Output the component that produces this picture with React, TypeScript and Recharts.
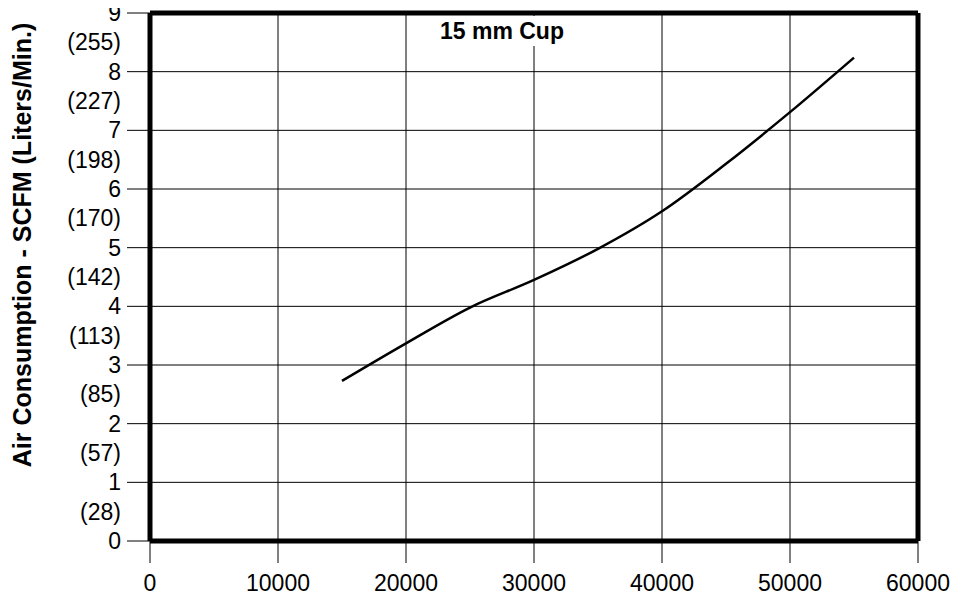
import React from "react";
import {
  LineChart,
  Line,
  XAxis,
  YAxis,
  CartesianGrid,
  ReferenceLine,
} from "recharts";

const rpm = [15000, 20000, 25000, 30000, 35000, 40000, 45000, 50000, 55000];
const scfm = [2.73, 3.37, 3.98, 4.45, 4.98, 5.62, 6.43, 7.31, 8.24];

const xTicks = [0, 10000, 20000, 30000, 40000, 50000, 60000];
const yMajor = [0, 1, 2, 3, 4, 5, 6, 7, 8, 9];
const yLitres = ["(28)", "(57)", "(85)", "(113)", "(142)", "(170)", "(198)", "(227)", "(255)"];

const data = rpm.map((x, i) => ({ x, y: scfm[i] }));
const yTicks = yMajor.flatMap((v, i) => (i < yLitres.length ? [v, v + 0.5] : [v]));

const FONT = "'Liberation Sans', Arial, sans-serif";

const YTick = (props: any) => {
  const { x, y, payload } = props;
  const v = payload.value;
  const isMajor = Number.isInteger(v);
  const label = isMajor ? String(v) : yLitres[Math.floor(v)];
  return (
    <g>
      {isMajor && <line x1={x - 23} x2={x} y1={y} y2={y} stroke="#000" strokeWidth={1} />}
      <text
        x={x - 29}
        y={y}
        textAnchor="end"
        dominantBaseline="central"
        fontSize={23}
        fontFamily={FONT}
        fill="#000"
      >
        {label}
      </text>
    </g>
  );
};

const XTick = (props: any) => {
  const { x, y, payload } = props;
  return (
    <g>
      <line x1={x} x2={x} y1={y} y2={y + 22} stroke="#000" strokeWidth={1} />
      <text
        x={x}
        y={y + 42}
        textAnchor="middle"
        dominantBaseline="central"
        fontSize={23}
        fontFamily={FONT}
        fill="#000"
      >
        {payload.value}
      </text>
    </g>
  );
};

export default function App() {
  return (
    <div style={{ position: "relative", width: 950, height: 590 }}>
      <style>{`.recharts-surface { overflow: visible; } .recharts-wrapper { overflow: visible; }`}</style>
      <LineChart
        width={950}
        height={590}
        data={data}
        margin={{ top: 5, right: 40, left: 0, bottom: 0 }}
        style={{ overflow: "visible" }}
      >
        <CartesianGrid
          stroke="#000"
          strokeWidth={1}
          horizontalValues={yMajor}
          verticalValues={xTicks}
        />
        <XAxis
          dataKey="x"
          type="number"
          domain={[0, 60000]}
          ticks={xTicks}
          height={57}
          tickSize={0}
          tickMargin={0}
          tickLine={false}
          tick={<XTick />}
          axisLine={{ stroke: "#000", strokeWidth: 5 }}
          interval={0}
        />
        <YAxis
          type="number"
          domain={[0, 9]}
          ticks={yTicks}
          width={142}
          tickSize={0}
          tickMargin={0}
          tickLine={false}
          tick={<YTick />}
          axisLine={{ stroke: "#000", strokeWidth: 5 }}
          interval={0}
          label={{
            content: () => (
              <text
                x={14}
                y={237}
                transform="rotate(-90 14 237)"
                textAnchor="middle"
                dominantBaseline="central"
                fontSize={25}
                fontWeight="bold"
                fontFamily={FONT}
                fill="#000"
              >
                Air Consumption - SCFM (Liters/Min.)
              </text>
            ),
          }}
        />
        <ReferenceLine y={9} stroke="#000" strokeWidth={5} />
        <ReferenceLine x={60000} stroke="#000" strokeWidth={5} />
        <Line
          type="monotone"
          dataKey="y"
          stroke="#000"
          strokeWidth={2.5}
          dot={false}
          isAnimationActive={false}
        />
      </LineChart>
      <div
        style={{
          position: "absolute",
          left: 424,
          top: 8,
          width: 140,
          height: 30,
          background: "#fff",
          fontFamily: FONT,
          fontWeight: "bold",
          fontSize: 23,
          lineHeight: "30px",
          textAlign: "center",
          color: "#000",
        }}
      >
        15 mm Cup
      </div>
    </div>
  );
}
